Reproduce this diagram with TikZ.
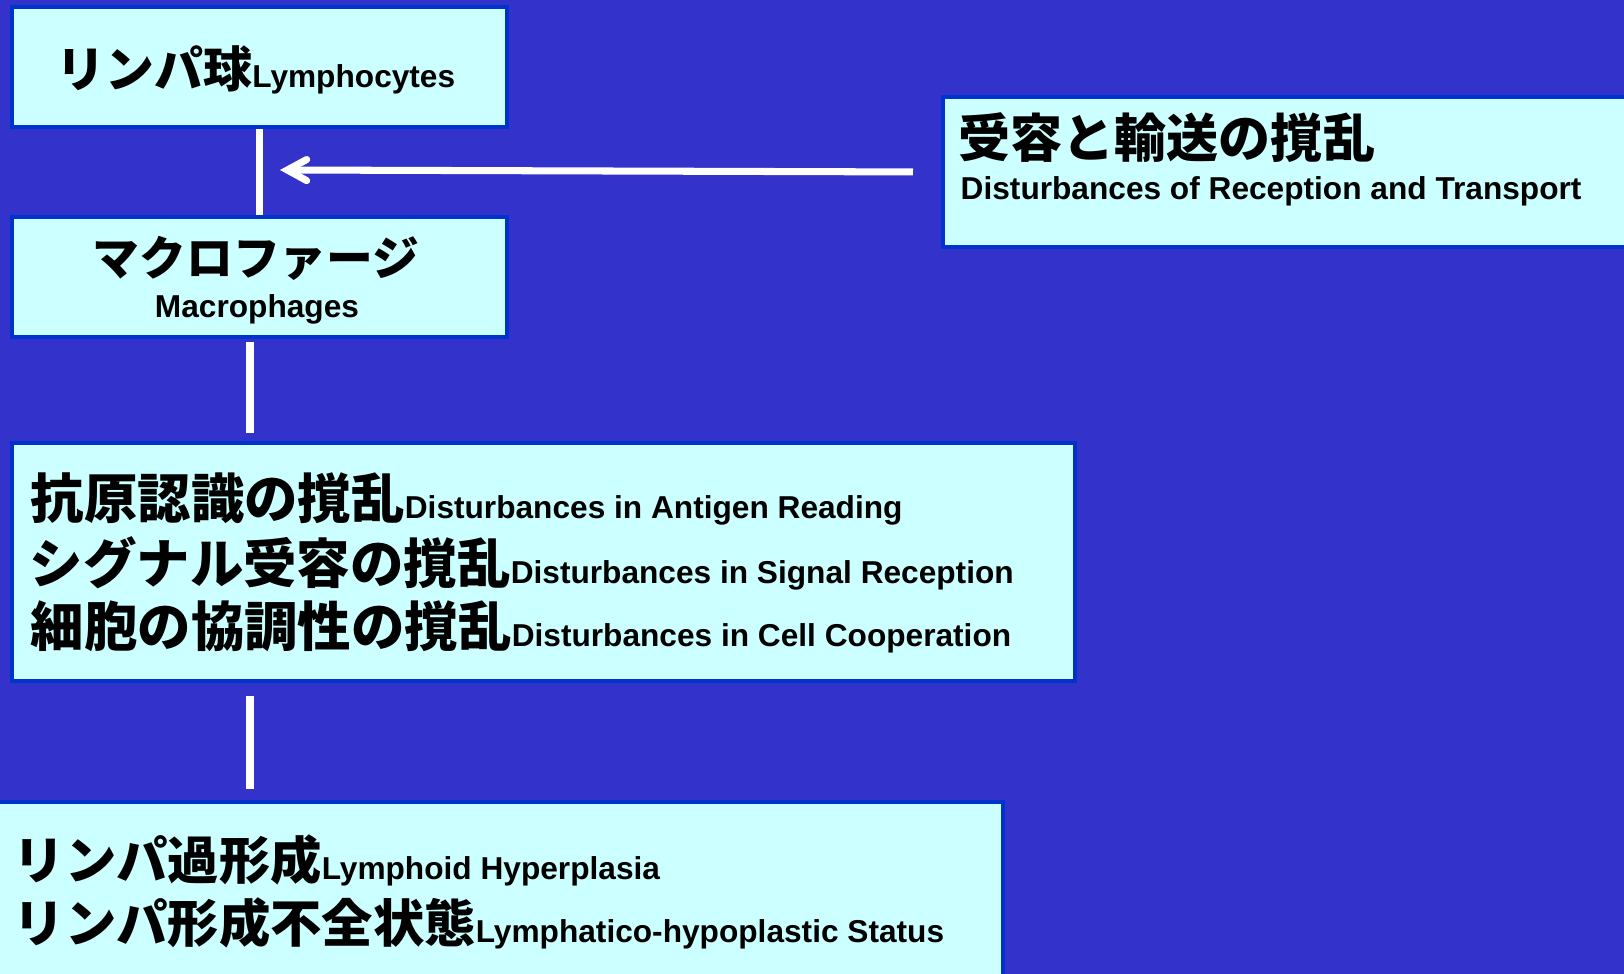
\documentclass[tikz,border=0pt]{standalone}
\usepackage{fontspec}
\setmainfont{Liberation Sans}
\newfontfamily\jp{Noto Sans CJK JP}
\usetikzlibrary{arrows.meta}
\definecolor{bgblue}{RGB}{51,51,204}
\definecolor{boxfill}{RGB}{204,255,255}
\definecolor{boxline}{RGB}{0,51,204}
\newcommand{\jpS}[1]{{\jp\bfseries\fontsize{13.9}{16}\selectfont #1}}
\newcommand{\jpT}[1]{{\jp\bfseries\fontsize{13.3}{16}\selectfont #1}}
\newcommand{\jpM}[1]{{\jp\bfseries\fontsize{14.6}{17}\selectfont #1}}
\newcommand{\jpL}[1]{{\jp\bfseries\fontsize{14.8}{18}\selectfont #1}}
\newcommand{\jpX}[1]{{\jp\bfseries\fontsize{15.2}{18}\selectfont #1}}
\newcommand{\en}[1]{{\bfseries\fontsize{9}{11}\selectfont #1}}

\begin{document}
\begin{tikzpicture}[x=0.01cm,y=-0.01cm,
  box/.style={draw=boxline,fill=boxfill,line width=1.14pt,inner sep=0pt,anchor=north west},
  txt/.style={inner sep=0pt},
  link/.style={draw=white,line width=2pt}]

\useasboundingbox (0,0) rectangle (1624,974);
\fill[bgblue] (0,0) rectangle (1624,974);				% background
\clip (0,0) rectangle (1624,974);

\node[box,minimum width=4.95cm,minimum height=1.2cm] (lym) at (10,5) {};		% Lymphocytes
\node[box,minimum width=4.95cm,minimum height=1.2cm] (mac) at (10,215) {};		% Macrophages
\node[box,minimum width=7.2cm,minimum height=1.5cm] (rbox) at (941,95) {};		% Reception and Transport
\node[box,minimum width=10.62cm,minimum height=2.38cm] (dist) at (10,441) {};	% Disturbances
\node[box,minimum width=10.1cm,minimum height=2.2cm] (hyp) at (-10,800) {};		% Hyperplasia

\node[txt,anchor=base] (lymT) at (256,88) {\jpS{リンパ球}\en{Lymphocytes}};
\node[txt] (macJ) at (256,258) {\jpT{マクロファージ}};
\node[txt,anchor=base] (macE) at (257,318) {\en{Macrophages}};
\node[txt,anchor=west] (rbJ) at (958,138) {\jpL{受容と輸送の撹乱}};
\node[txt,anchor=base west] (rbE) at (960,200) {\en{Disturbances of Reception and Transport}};

\node[txt,anchor=base west] (d1) at (30,519) {\jpX{抗原認識の撹乱}\en{Disturbances in Antigen Reading}};
\node[txt,anchor=base west] (d2) at (29,584) {\jpX{シグナル受容の撹乱}\en{Disturbances in Signal Reception}};
\node[txt,anchor=base west] (d3) at (30,647) {\jpX{細胞の協調性の撹乱}\en{Disturbances in Cell Cooperation}};

\node[txt,anchor=base west] (h1) at (13,880) {\jpM{リンパ過形成}\en{Lymphoid Hyperplasia}};
\node[txt,anchor=base west] (h2) at (13,943) {\jpM{リンパ形成不全状態}\en{Lymphatico-hypoplastic Status}};

\coordinate (lx) at (250,0);
\coordinate (hit) at (280,170);
\draw[link] (lym) -- (mac);																% Lymphocytes to Macrophages
\draw[link,shorten <=0.03cm,shorten >=0.08cm] (mac.south -| lx) -- (dist.north -| lx);
\draw[link,shorten <=0.13cm,shorten >=0.11cm] (dist.south -| lx) -- (hyp.north -| lx);
\draw[link,shorten <=0.28cm,-{Straight Barb[length=5.5pt,width=6pt,line cap=round]}] (rbox.west) -- (hit);	% arrow into the line

\end{tikzpicture}
\end{document}
